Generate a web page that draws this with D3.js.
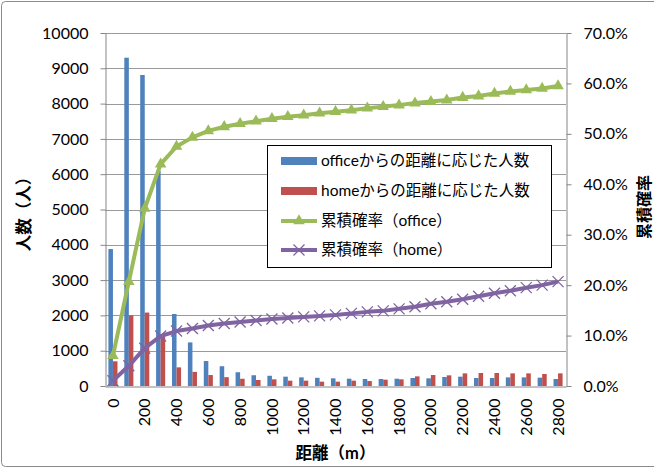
<!DOCTYPE html>
<html>
<head>
<meta charset="utf-8">
<script src="https://cdn.jsdelivr.net/npm/d3@7"></script>
<style>
  body { margin: 0; background: #fff; }
  svg { display: block; }
  text { font-family: Lato, "Noto Sans CJK JP", sans-serif; fill: #000; }
</style>
</head>
<body>
<svg id="chart" width="654" height="469"></svg>
<script>
// Distance buckets (m)
const categories = [0, 100, 200, 300, 400, 500, 600, 700, 800, 900, 1000, 1100, 1200, 1300, 1400,
  1500, 1600, 1700, 1800, 1900, 2000, 2100, 2200, 2300, 2400, 2500, 2600, 2700, 2800];

// People per distance bucket
const officeCounts = [3880, 9300, 8810, 6100, 2040, 1235, 707, 560, 390, 305, 290, 264, 245, 232, 217,
  207, 198, 198, 207, 226, 217, 255, 264, 226, 226, 245, 245, 236, 198];
const homeCounts = [700, 2000, 2080, 1400, 528, 400, 311, 250, 205, 170, 189, 151, 151, 123, 123,
  151, 141, 179, 189, 273, 311, 302, 358, 368, 368, 358, 358, 340, 358];

// Cumulative probability (%)
const officeCumulative = [6.0, 20.7, 35.2, 44.0, 47.5, 49.3, 50.6, 51.4, 52.0, 52.5, 53.0, 53.4, 53.7, 54.1, 54.4,
  54.7, 55.1, 55.4, 55.7, 56.1, 56.4, 56.7, 57.2, 57.5, 58.0, 58.4, 58.7, 59.0, 59.5];
const homeCumulative = [1.05, 4.0, 7.5, 9.9, 10.9, 11.4, 12.0, 12.4, 12.7, 13.0, 13.3, 13.5, 13.7, 13.9, 14.1,
  14.4, 14.7, 14.9, 15.3, 15.7, 16.3, 16.7, 17.2, 17.8, 18.4, 18.9, 19.5, 20.0, 20.7];

// Axis ticks
const leftTicks = [0, 1000, 2000, 3000, 4000, 5000, 6000, 7000, 8000, 9000, 10000];
const rightTicks = [0, 0.1, 0.2, 0.3, 0.4, 0.5, 0.6, 0.7];
const xTickLabels = [0, 200, 400, 600, 800, 1000, 1200, 1400, 1600, 1800, 2000, 2200, 2400, 2600, 2800];

const seriesNames = ["officeからの距離に応じた人数", "homeからの距離に応じた人数", "累積確率（office）", "累積確率（home）"];
const colors = { office: "#4F81BD", home: "#C0504D", officeLine: "#9BBB59", homeLine: "#8064A2" };

const svg = d3.select("#chart");
const plot = { left: 105, right: 566, top: 33, bottom: 386 };

const x = d3.scaleBand().domain(categories).range([plot.left, plot.right]);
const yL = d3.scaleLinear().domain([0, 10000]).range([plot.bottom, plot.top]);
const yR = d3.scaleLinear().domain([0, 0.7]).range([plot.bottom, plot.top]);
const bw = x.bandwidth();
const barW = bw / 3.5;
const cx = d => x(d) + bw / 2;

// Chart area border
svg.append("rect").attr("x", 1.5).attr("y", 1.5).attr("width", 720).attr("height", 465)
  .attr("rx", 4).attr("fill", "#fff").attr("stroke", "#8a8a8a");

// Horizontal gridlines
svg.append("g").selectAll("line").data(leftTicks.filter(t => t > 0)).join("line")
  .attr("x1", plot.left).attr("x2", plot.right)
  .attr("y1", d => Math.round(yL(d)) + 0.5).attr("y2", d => Math.round(yL(d)) + 0.5)
  .attr("stroke", "#9a9a9a").attr("stroke-width", 1);

// Bars
const bars = svg.append("g");
bars.selectAll("rect.office").data(categories).join("rect").attr("class", "office")
  .attr("x", (d) => cx(d) - barW).attr("width", barW)
  .attr("y", (d, i) => yL(officeCounts[i])).attr("height", (d, i) => yL(0) - yL(officeCounts[i]))
  .attr("fill", colors.office);
bars.selectAll("rect.home").data(categories).join("rect").attr("class", "home")
  .attr("x", (d) => cx(d)).attr("width", barW)
  .attr("y", (d, i) => yL(homeCounts[i])).attr("height", (d, i) => yL(0) - yL(homeCounts[i]))
  .attr("fill", colors.home);

// Axes
const axisStyle = g => {
  g.select(".domain").attr("stroke", "#868686");
  g.selectAll(".tick line").attr("stroke", "#868686");
  g.selectAll("text").attr("font-size", 16).attr("fill", "#000");
};

svg.append("g").attr("transform", `translate(${plot.left + 0.5},0)`)
  .call(d3.axisLeft(yL).tickValues(leftTicks).tickSize(5).tickSizeOuter(0).tickPadding(12).tickFormat(d3.format("d")))
  .call(axisStyle).attr("font-family", null);

svg.append("g").attr("transform", `translate(${plot.right + 0.5},0)`)
  .call(d3.axisRight(yR).tickValues(rightTicks).tickSize(5).tickSizeOuter(0).tickPadding(12).tickFormat(d3.format(".1%")))
  .call(axisStyle).attr("font-family", null);

const xAxis = svg.append("g").attr("transform", `translate(0,${plot.bottom + 0.5})`)
  .call(d3.axisBottom(x).tickValues(xTickLabels).tickSize(0).tickSizeOuter(0).tickFormat(d3.format("d")))
  .call(axisStyle).attr("font-family", null);
xAxis.selectAll(".tick text")
  .attr("transform", "rotate(-90)")
  .attr("text-anchor", "end")
  .attr("x", -12).attr("y", 0).attr("dy", "0.35em");

// Cumulative lines
const line = d3.line().x((d, i) => cx(categories[i])).y(d => yR(d / 100));
svg.append("path").datum(officeCumulative).attr("d", line)
  .attr("fill", "none").attr("stroke", colors.officeLine).attr("stroke-width", 4).attr("stroke-linejoin", "round");
svg.append("path").datum(homeCumulative).attr("d", line)
  .attr("fill", "none").attr("stroke", colors.homeLine).attr("stroke-width", 4).attr("stroke-linejoin", "round");

const triangle = d3.symbol(d3.symbolTriangle, 58)();
const cross = "M-5.5,-5.5L5.5,5.5M-5.5,5.5L5.5,-5.5";

svg.append("g").selectAll("path").data(officeCumulative).join("path")
  .attr("transform", (d, i) => `translate(${cx(categories[i])},${yR(d / 100)})`)
  .attr("d", triangle).attr("fill", colors.officeLine);
svg.append("g").selectAll("path").data(homeCumulative).join("path")
  .attr("transform", (d, i) => `translate(${cx(categories[i])},${yR(d / 100)})`)
  .attr("d", cross).attr("fill", "none").attr("stroke", colors.homeLine).attr("stroke-width", 1.3);

// Legend
const legend = svg.append("g");
legend.append("rect").attr("x", 267.5).attr("y", 145.5).attr("width", 284).attr("height", 122)
  .attr("fill", "#fff").attr("stroke", "#000").attr("stroke-width", 1);
const rowsY = [161, 191, 221, 250];
legend.append("rect").attr("x", 281).attr("y", rowsY[0] - 4).attr("width", 36).attr("height", 8).attr("fill", colors.office);
legend.append("rect").attr("x", 281).attr("y", rowsY[1] - 4).attr("width", 36).attr("height", 8).attr("fill", colors.home);
legend.append("line").attr("x1", 281).attr("x2", 317).attr("y1", rowsY[2]).attr("y2", rowsY[2])
  .attr("stroke", colors.officeLine).attr("stroke-width", 4);
legend.append("path").attr("transform", `translate(299,${rowsY[2]})`).attr("d", triangle).attr("fill", colors.officeLine);
legend.append("line").attr("x1", 281).attr("x2", 317).attr("y1", rowsY[3]).attr("y2", rowsY[3])
  .attr("stroke", colors.homeLine).attr("stroke-width", 4);
legend.append("path").attr("transform", `translate(299,${rowsY[3]})`).attr("d", cross)
  .attr("fill", "none").attr("stroke", colors.homeLine).attr("stroke-width", 1.3);
legend.selectAll("text").data(seriesNames).join("text")
  .attr("x", 321).attr("y", (d, i) => rowsY[i]).attr("dy", "0.35em")
  .attr("font-size", 15.5).text(d => d);

// Axis titles
svg.append("text").attr("x", 335.5).attr("y", 453).attr("dy", "0.35em").attr("text-anchor", "middle")
  .attr("font-size", 16.5).attr("font-weight", "bold").text("距離（m）");
svg.append("text").attr("transform", "translate(24,210) rotate(-90)").attr("dy", "0.35em").attr("text-anchor", "middle")
  .attr("font-size", 16.5).attr("font-weight", "bold").text("人数（人）");
svg.append("text").attr("transform", "translate(644,207) rotate(-90)").attr("dy", "0.35em").attr("text-anchor", "middle")
  .attr("font-size", 16).attr("font-weight", "bold").text("累積確率");
</script>
</body>
</html>
